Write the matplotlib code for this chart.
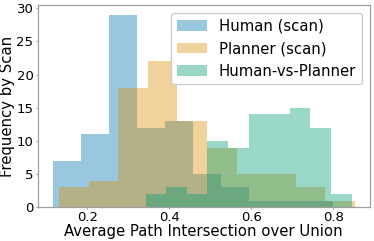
#######################
# Histogram of average path IoU per scan: human, planner and human-vs-planner
#######################

import matplotlib
matplotlib.use('Agg')
import matplotlib.pyplot as plt
import numpy as np

# Counts per bin (10 bins each)
human_counts = [7, 11, 29, 12, 13, 5, 3, 1, 1, 1]
planner_counts = [3, 4, 18, 22, 13, 9, 5, 5, 3, 1]
hvp_counts = [2, 3, 2, 10, 9, 14, 14, 15, 12, 2]

# Value range spanned by each histogram (min, max of the IoU values)
human_range = (0.1155, 0.7985)
planner_range = (0.1318, 0.8520)
hvp_range = (0.3424, 0.8448)

labels = ['Human (scan)', 'Planner (scan)', 'Human-vs-Planner']
colors = ['#0173b2', '#de8f05', '#029e73']

FONT_BIG = 10.7
FONT_TICK = 9.5
GRAY = '#a0a0a0'

fig = plt.figure(figsize=(3.74, 2.41), dpi=100)
ax = fig.add_axes([0.1005, 0.14, 0.888, 0.838])

# Draw each histogram from its bin counts
for counts, rng, lab, col in zip([human_counts, planner_counts, hvp_counts],
                                 [human_range, planner_range, hvp_range],
                                 labels, colors):
    edges = np.linspace(rng[0], rng[1], len(counts) + 1)
    centers = 0.5 * (edges[:-1] + edges[1:])
    ax.hist(centers, bins=edges, weights=counts, color=col, alpha=0.4, label=lab)

ax.set_xticks([0.2, 0.4, 0.6, 0.8])
ax.set_yticks([0, 5, 10, 15, 20, 25, 30])
ax.tick_params(axis='both', labelsize=FONT_TICK, length=1.5, width=0.8, color=GRAY, pad=1.5)
for sp in ax.spines.values():
    sp.set_color(GRAY)
    sp.set_linewidth(0.9)

ax.set_xlabel('Average Path Intersection over Union', fontsize=FONT_BIG, labelpad=0)
ax.set_ylabel('Frequency by Scan', fontsize=FONT_BIG, labelpad=1)

ax.legend(loc='upper right', fontsize=FONT_BIG, framealpha=1.0, edgecolor='#cccccc')

fig.savefig('out.png', dpi=100)
